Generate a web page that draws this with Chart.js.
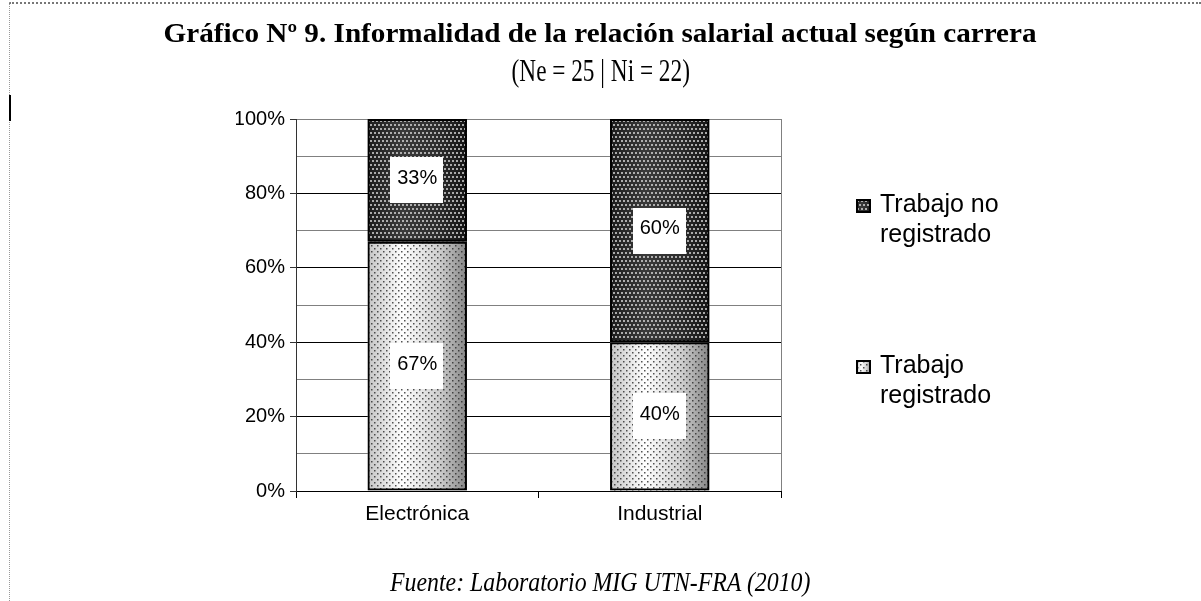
<!DOCTYPE html>
<html lang="es">
<head>
<meta charset="utf-8">
<title>Gráfico Nº 9</title>
<script src="https://cdn.jsdelivr.net/npm/chart.js@4.4.1/dist/chart.umd.min.js"></script>
<style>
    html, body { margin: 0; padding: 0; background: #fff; }
    #wrap { position: relative; width: 1201px; height: 601px; overflow: hidden; background: #fff; }
    #chart { position: absolute; left: 0; top: 0; }
    .line { position: absolute; left: 0; width: 1201px; text-align: center; white-space: nowrap; color: #000; }
    .line span { display: inline-block; transform-origin: center; }
    #title { top: 18px; font: bold 27px "Liberation Serif", serif; }
    #subtitle { top: 53px; font: 31px "Liberation Serif", serif; }
    #source { top: 567px; font: italic 27px "Liberation Serif", serif; }
    .frame-top { position: absolute; left: 9px; right: 0; top: 2px; border-top: 2px dotted #777; }
    .frame-left { position: absolute; left: 9px; top: 2px; bottom: 0; border-left: 1px dotted #999; }
    .frame-mark { position: absolute; left: 9px; top: 95px; width: 2px; height: 26px; background: #000; }
    .legend-item { position: absolute; left: 856px; font: 25px "Liberation Sans", Arial, sans-serif; line-height: 30px; color: #000; }
    .legend-item canvas { position: absolute; left: 0; top: 11px; }
    .legend-item div { position: absolute; left: 24px; top: 0; white-space: nowrap; }
</style>
</head>
<body>
<div id="wrap">
    <canvas id="chart" width="1201" height="601"></canvas>
    <div class="frame-top"></div>
    <div class="frame-left"></div>
    <div class="frame-mark"></div>
    <div class="line" id="title"><span>Gráfico Nº 9. Informalidad de la relación salarial actual según carrera</span></div>
    <div class="line" id="subtitle"><span>(Ne = 25 | Ni = 22)</span></div>
    <div class="line" id="source"><span>Fuente: Laboratorio MIG UTN-FRA (2010)</span></div>
    <div class="legend-item" style="top:188px"><canvas id="sw1" width="15" height="14"></canvas><div>Trabajo no<br>registrado</div></div>
    <div class="legend-item" style="top:349px"><canvas id="sw0" width="15" height="14"></canvas><div>Trabajo<br>registrado</div></div>
</div>
<script>
// Chart data
const categories = ['Electrónica', 'Industrial'];
const registrado = [67, 40];
const noRegistrado = [33, 60];
const seriesNames = ['Trabajo registrado', 'Trabajo no registrado'];
const yTickLabels = [0, 20, 40, 60, 80, 100];

// Fill a rectangle with the shaded dot texture (dark or light)
function paintTexture(ctx, left, top, w, h, dark) {
    ctx.save();
    ctx.beginPath();
    ctx.rect(left, top, w, h);
    ctx.clip();
    const g = ctx.createLinearGradient(left, 0, left + w, 0);
    if (dark) {
        g.addColorStop(0, '#1c1c1c');
        g.addColorStop(0.35, '#3a3a3a');
        g.addColorStop(0.7, '#2e2e2e');
        g.addColorStop(1, '#141414');
    } else {
        g.addColorStop(0, '#c4c4c4');
        g.addColorStop(0.35, '#ffffff');
        g.addColorStop(0.72, '#cfcfcf');
        g.addColorStop(1, '#858585');
    }
    ctx.fillStyle = g;
    ctx.fillRect(left, top, w, h);

    const sx = dark ? 4 : 6;
    const sy = dark ? 4 : 3;
    ctx.fillStyle = dark ? 'rgba(205,205,205,0.8)' : 'rgba(40,40,40,0.8)';
    let row = 0;
    for (let y = Math.floor(top) + 1; y < top + h; y += sy, row++) {
        const off = (row % 2) * (sx / 2);
        for (let x = Math.floor(left) + 1 + off; x < left + w; x += sx) {
            ctx.fillRect(x, y, dark ? 2 : 1.5, dark ? 2 : 1.5);
        }
    }
    ctx.restore();
}

// Paint the bar segments before Chart.js strokes their borders
const texturePlugin = {
    id: 'texture',
    beforeDatasetsDraw(chart) {
        const ctx = chart.ctx;
        chart.data.datasets.forEach((ds, i) => {
            const meta = chart.getDatasetMeta(i);
            meta.data.forEach(bar => {
                const p = bar.getProps(['x', 'y', 'base', 'width'], true);
                const top = Math.min(p.y, p.base);
                const h = Math.abs(p.base - p.y);
                paintTexture(ctx, p.x - p.width / 2, top, p.width, h, i === 1);
            });
        });
        // gray plot border on the right side
        const a = chart.chartArea;
        ctx.save();
        ctx.strokeStyle = '#808080';
        ctx.lineWidth = 1;
        ctx.beginPath();
        ctx.moveTo(Math.round(a.right) + 0.5, a.top);
        ctx.lineTo(Math.round(a.right) + 0.5, a.bottom);
        ctx.stroke();
        ctx.restore();
    }
};

// White boxes with the percentage in the middle of each segment
const labelPlugin = {
    id: 'boxLabels',
    afterDatasetsDraw(chart) {
        const ctx = chart.ctx;
        ctx.save();
        ctx.font = '20px "Liberation Sans", Arial, sans-serif';
        ctx.textAlign = 'center';
        ctx.textBaseline = 'middle';
        chart.data.datasets.forEach((ds, i) => {
            const meta = chart.getDatasetMeta(i);
            meta.data.forEach((bar, j) => {
                const p = bar.getProps(['x', 'y', 'base'], true);
                const cy = (p.y + p.base) / 2;
                ctx.fillStyle = '#fff';
                ctx.fillRect(Math.round(p.x - 27), Math.round(cy - 23), 53, 46);
                ctx.fillStyle = '#000';
                ctx.fillText(ds.data[j] + '%', p.x, cy - 2);
            });
        });
        ctx.restore();
    }
};

function buildChart() {
    const ctx = document.getElementById('chart').getContext('2d');
    new Chart(ctx, {
        type: 'bar',
        data: {
            labels: categories,
            datasets: [
                { label: seriesNames[0], data: registrado },
                { label: seriesNames[1], data: noRegistrado }
            ].map(ds => Object.assign(ds, {
                backgroundColor: 'rgba(0,0,0,0)',
                borderColor: '#000',
                borderWidth: 2,
                borderSkipped: false,
                categoryPercentage: 1,
                barPercentage: 0.41
            }))
        },
        options: {
            responsive: false,
            animation: false,
            devicePixelRatio: 1,
            layout: { padding: { left: 236, right: 420, top: 119, bottom: 60 } },
            plugins: {
                legend: { display: false },
                tooltip: { enabled: false }
            },
            scales: {
                x: {
                    stacked: true,
                    afterFit: s => { s.height = 50; },
                    grid: { drawOnChartArea: false, offset: true, tickLength: 7, color: '#000' },
                    border: { color: '#000', width: 1 },
                    ticks: {
                        color: '#000',
                        padding: 4,
                        font: { family: '"Liberation Sans", Arial, sans-serif', size: 21 }
                    }
                },
                y: {
                    stacked: true,
                    min: 0,
                    max: 100,
                    afterFit: s => { s.width = 60; },
                    grid: {
                        tickLength: 6,
                        color: c => (c.tick.value % 20 === 0 && c.tick.value !== 100) ? '#000' : '#808080',
                        tickColor: c => yTickLabels.includes(c.tick.value) ? '#333' : 'rgba(0,0,0,0)'
                    },
                    border: { color: '#333', width: 1 },
                    ticks: {
                        stepSize: 10,
                        autoSkip: false,
                        color: '#000',
                        padding: 5,
                        font: { family: '"Liberation Sans", Arial, sans-serif', size: 20 },
                        callback: v => yTickLabels.includes(v) ? v + '%' : ''
                    }
                }
            }
        },
        plugins: [texturePlugin, labelPlugin]
    });
}

// Squeeze the serif texts to the widths seen in the original
function fitText(id, width) {
    const span = document.querySelector('#' + id + ' span');
    span.style.transform = 'scaleX(' + (width / span.offsetWidth) + ')';
}

function drawSwatches() {
    ['sw0', 'sw1'].forEach((id, i) => {
        const c = document.getElementById(id).getContext('2d');
        paintTexture(c, 0, 0, 15, 14, i === 1);
        c.strokeStyle = '#000';
        c.lineWidth = 2;
        c.strokeRect(1, 1, 13, 12);
    });
}

document.addEventListener('DOMContentLoaded', function() {
    buildChart();
    drawSwatches();
    fitText('title', 873);
    fitText('subtitle', 178);
    fitText('source', 420);
});
</script>
</body>
</html>
